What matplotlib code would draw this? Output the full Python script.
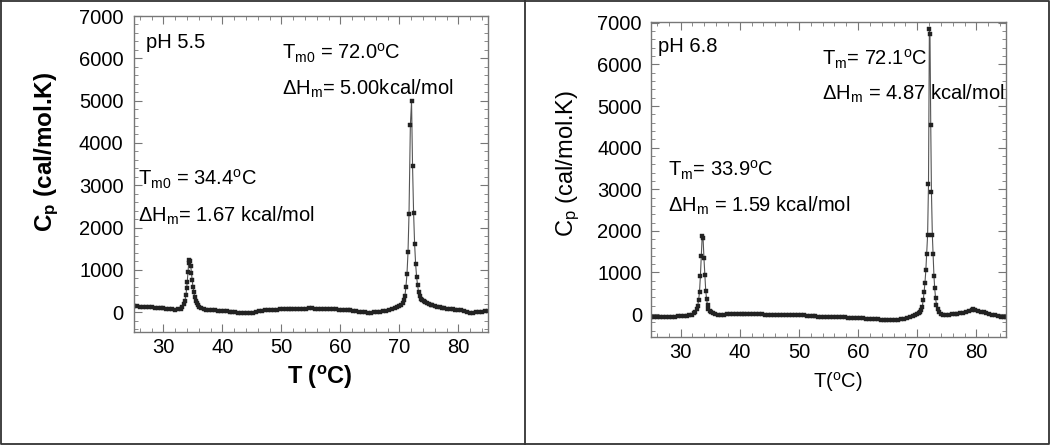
import matplotlib
matplotlib.use("Agg")
import matplotlib.pyplot as plt
from matplotlib.ticker import MultipleLocator
from matplotlib.lines import Line2D

plt.rcParams['font.family'] = ['Liberation Sans', 'DejaVu Sans']
plt.rcParams['mathtext.fontset'] = 'custom'
plt.rcParams['mathtext.rm'] = 'Liberation Sans'
plt.rcParams['mathtext.it'] = 'Liberation Sans:italic'
plt.rcParams['mathtext.bf'] = 'Liberation Sans:bold'
plt.rcParams['xtick.labelsize'] = 14.5
plt.rcParams['ytick.labelsize'] = 14.5

# pH 5.5 scan
T_55 = [25.0, 25.5, 26.0, 26.5, 27.0, 27.5, 28.0, 28.5, 29.0, 29.5, 30.0, 30.5,
        31.0, 31.5, 32.0, 32.5, 32.9, 33.2, 33.45, 33.63, 33.8, 33.93, 34.03,
        34.15, 34.27, 34.38, 34.5, 34.62, 34.74, 34.86, 35.0, 35.14, 35.3, 35.48,
        35.66, 35.87, 36.1, 36.4, 36.8, 37.2, 37.7, 38.2, 38.7, 39.2, 39.7, 40.2,
        40.7, 41.2, 41.7, 42.2, 42.7, 43.2, 43.7, 44.2, 44.7, 45.2, 45.7, 46.2,
        46.7, 47.2, 47.7, 48.2, 48.7, 49.2, 49.7, 50.2, 50.7, 51.2, 51.7, 52.2,
        52.7, 53.2, 53.7, 54.2, 54.7, 55.2, 55.7, 56.2, 56.7, 57.2, 57.7, 58.2,
        58.7, 59.2, 59.7, 60.2, 60.7, 61.2, 61.7, 62.2, 62.7, 63.2, 63.7, 64.2,
        64.7, 65.2, 65.7, 66.2, 66.7, 67.2, 67.7, 68.2, 68.7, 69.2, 69.6, 70.0,
        70.3, 70.56, 70.75, 70.92, 71.1, 71.28, 71.45, 71.62, 71.85, 72.05, 72.22,
        72.4, 72.57, 72.74, 72.91, 73.08, 73.25, 73.45, 73.65, 73.85, 74.1, 74.4,
        74.7, 75.0, 75.3, 75.6, 76.0, 76.4, 76.8, 77.2, 77.6, 78.0, 78.5, 79.0,
        79.5, 80.0, 80.5, 81.0, 81.5, 82.0, 82.5, 83.0, 83.5, 84.0, 84.5, 85.0]
cp_55 = [140, 135, 130, 125, 120, 115, 110, 105, 100, 95, 88, 80,
         75, 68, 62, 65, 85, 130, 190, 260, 400, 560, 720,
         950, 1150, 1240, 1200, 1100, 930, 760, 600, 470, 360, 270,
         205, 160, 125, 100, 75, 60, 50, 45, 40, 35, 30, 25,
         20, 12, 5, -5, -15, -25, -30, -28, -20, -10, 5, 20,
         35, 45, 52, 58, 60, 62, 63, 65, 66, 68, 70, 72,
         75, 78, 82, 85, 87, 87, 85, 82, 78, 75, 72, 70,
         67, 64, 60, 57, 52, 47, 40, 32, 22, 12, 3, -5,
         -10, -10, -5, 3, 12, 22, 38, 55, 75, 100, 125, 150,
         180, 215, 290, 380, 595, 910, 1410, 2320, 4415, 4980, 3460,
         2340, 1616, 1145, 830, 635, 470, 370, 310, 282, 260, 245,
         225, 200, 180, 160, 140, 125, 110, 100, 92, 85, 78, 70,
         62, 52, 40, 25, 10, -10, -15, -8, 0, 10, 18, 25]

# pH 6.8 scan
T_68 = [25.0, 25.5, 26.0, 26.5, 27.0, 27.5, 28.0, 28.5, 29.0, 29.5, 30.0, 30.5,
        31.0, 31.5, 31.9, 32.2, 32.45, 32.7, 32.9, 33.05, 33.2, 33.35, 33.5, 33.65,
        33.8, 33.95, 34.1, 34.25, 34.4, 34.55, 34.7, 34.9, 35.1, 35.4, 35.8, 36.3,
        36.8, 37.3, 37.8, 38.3, 38.8, 39.3, 39.8, 40.3, 40.8, 41.3, 41.8, 42.3,
        42.8, 43.3, 43.8, 44.3, 44.8, 45.3, 45.8, 46.3, 46.8, 47.3, 47.8, 48.3,
        48.8, 49.3, 49.8, 50.3, 50.8, 51.3, 51.8, 52.3, 52.8, 53.3, 53.8, 54.3,
        54.8, 55.3, 55.8, 56.3, 56.8, 57.3, 57.8, 58.3, 58.8, 59.3, 59.8, 60.3,
        60.8, 61.3, 61.8, 62.3, 62.8, 63.3, 63.8, 64.3, 64.8, 65.3, 65.8, 66.3,
        66.8, 67.3, 67.8, 68.3, 68.8, 69.3, 69.7, 70.0, 70.25, 70.45, 70.65, 70.85,
        71.0, 71.15, 71.3, 71.45, 71.6, 71.75, 71.9, 72.05, 72.15, 72.28, 72.4, 72.55,
        72.68, 72.82, 72.95, 73.1, 73.25, 73.45, 73.7, 74.0, 74.4, 74.8, 75.3, 75.8,
        76.3, 76.8, 77.3, 77.8, 78.3, 78.8, 79.2, 79.5, 79.8, 80.2, 80.7, 81.2,
        81.7, 82.2, 82.7, 83.2, 83.7, 84.2, 84.7, 85.0]
cp_68 = [-75, -72, -70, -68, -66, -64, -62, -60, -58, -55, -52, -48,
         -40, -28, -10, 20, 60, 130, 200, 340, 540, 920, 1400, 1870,
         1830, 1340, 940, 560, 360, 210, 130, 80, 45, 15, -5, -15,
         -15, -10, -5, 0, 5, 8, 10, 10, 8, 5, 2, 0,
         -3, -6, -9, -12, -15, -17, -19, -20, -22, -24, -25, -25,
         -25, -25, -26, -28, -32, -36, -42, -48, -54, -58, -62, -65,
         -68, -70, -72, -74, -76, -78, -80, -83, -86, -90, -94, -98,
         -103, -108, -113, -118, -122, -126, -130, -133, -135, -137, -138, -137,
         -133, -125, -112, -95, -75, -50, -25, 0, 25, 45, 90, 180,
         330, 520, 750, 1050, 1450, 1900, 3130, 6850, 6720, 4540, 2930, 1900,
         1445, 920, 620, 380, 220, 120, 50, 10, -10, -15, -10, -5,
         0, 10, 20, 35, 55, 80, 110, 125, 100, 75, 55, 40,
         25, 10, -10, -30, -45, -60, -75, -80]


def draw_panel(ax, T, cp, ylim, ypad):
    ax.plot(T, cp, '-', color='#555555', lw=0.8, marker='s', ms=2.6,
            mfc='#222222', mec='#222222', mew=0.3)
    ax.set_xlim(25, 85)
    ax.set_ylim(*ylim)
    ax.xaxis.set_major_locator(MultipleLocator(10))
    ax.xaxis.set_minor_locator(MultipleLocator(2))
    ax.yaxis.set_major_locator(MultipleLocator(1000))
    ax.yaxis.set_minor_locator(MultipleLocator(200))
    ax.tick_params(which='both', direction='in', top=True, right=True,
                   color='#777777')
    ax.tick_params(which='major', length=6, width=0.8)
    ax.tick_params(which='minor', length=3, width=0.6)
    ax.tick_params(axis='x', which='both', pad=4)
    ax.tick_params(axis='y', which='both', pad=ypad)
    for s in ax.spines.values():
        s.set_color('#777777')
        s.set_linewidth(1.0)


fig = plt.figure(figsize=(10.5, 4.45), dpi=100)

ax1 = fig.add_axes([0.1276, 0.2539, 0.3371, 0.7101])
draw_panel(ax1, T_55, cp_55, (-470, 7000), 7.5)
ax1.set_ylabel(r"$\mathbf{C}_{\mathbf{p}}$ (cal/mol.K)", fontsize=17.5,
               fontweight='bold')
ax1.yaxis.set_label_coords(-0.205, 0.57)
ax1.set_xlabel(r"T ($\mathbf{^o}$C)", fontsize=17, fontweight='bold', va='top')
ax1.xaxis.set_label_coords(0.525, -0.10)
ax1.text(0.033, 0.898, "pH 5.5", transform=ax1.transAxes, fontsize=14.5)
ax1.text(0.417, 0.863, r"T$_{\rm m0}$ = 72.0$^{\rm o}$C", transform=ax1.transAxes,
         fontsize=14.5)
ax1.text(0.417, 0.75, r"ΔH$_{\rm m}$= 5.00kcal/mol", transform=ax1.transAxes,
         fontsize=14.5)
ax1.text(0.012, 0.465, r"T$_{\rm m0}$ = 34.4$^{\rm o}$C", transform=ax1.transAxes,
         fontsize=14.5)
ax1.text(0.012, 0.349, r"ΔH$_{\rm m}$= 1.67 kcal/mol", transform=ax1.transAxes,
         fontsize=14.5)

ax2 = fig.add_axes([0.62, 0.2427, 0.3381, 0.7079])
draw_panel(ax2, T_68, cp_68, (-550, 7020), 6.5)
ax2.set_ylabel(r"C$_{\rm p}$ (cal/mol.K)", fontsize=17)
ax2.yaxis.set_label_coords(-0.195, 0.552)
ax2.set_xlabel(r"T($^{\rm o}$C)", fontsize=14.5, va='top')
ax2.xaxis.set_label_coords(0.527, -0.105)
ax2.text(0.021, 0.906, "pH 6.8", transform=ax2.transAxes, fontsize=14.5)
ax2.text(0.483, 0.863, r"T$_{\rm m}$= 72.1$^{\rm o}$C", transform=ax2.transAxes,
         fontsize=14.5)
ax2.text(0.483, 0.752, r"ΔH$_{\rm m}$ = 4.87 kcal/mol", transform=ax2.transAxes,
         fontsize=14.5)
ax2.text(0.047, 0.511, r"T$_{\rm m}$= 33.9$^{\rm o}$C", transform=ax2.transAxes,
         fontsize=14.5)
ax2.text(0.047, 0.398, r"ΔH$_{\rm m}$ = 1.59 kcal/mol", transform=ax2.transAxes,
         fontsize=14.5)

# outer frame and divider between the two panels
frame = dict(color='#333333', lw=1.3, transform=fig.transFigure)
fig.add_artist(Line2D([0.001, 0.999, 0.999, 0.001, 0.001],
                      [0.998, 0.998, 0.002, 0.002, 0.998], **frame))
fig.add_artist(Line2D([0.5, 0.5], [0.0, 1.0], **frame))

fig.savefig('out.png', dpi=100)
